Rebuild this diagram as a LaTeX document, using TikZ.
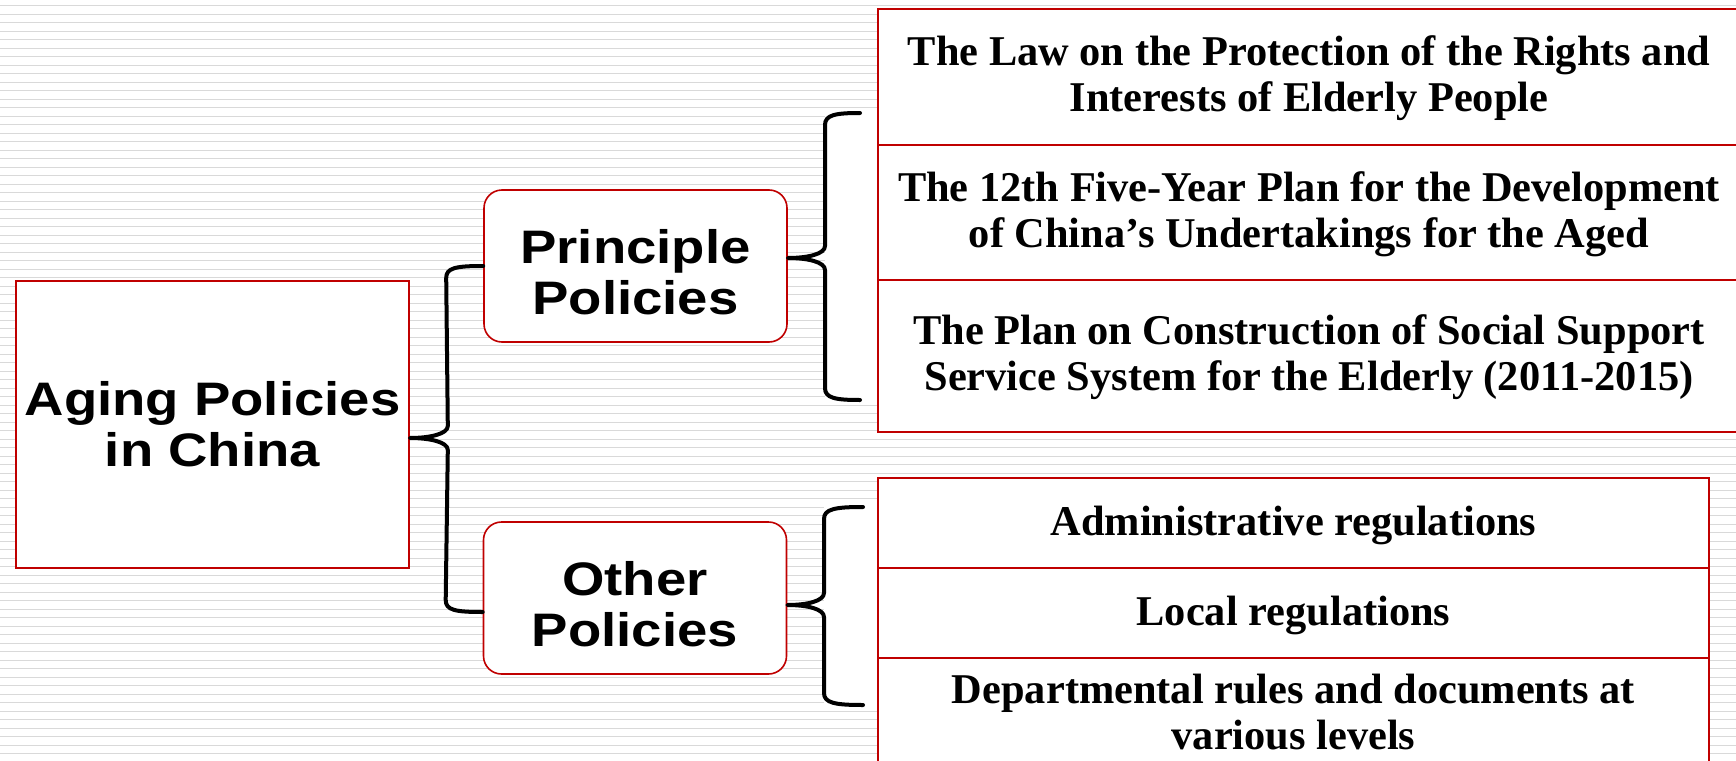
\documentclass[tikz,border=0pt]{standalone}
\usepackage{fontspec}
\setmainfont{Liberation Serif}
\newfontfamily\arialx[FakeStretch=1.16]{Liberation Sans}
\usetikzlibrary{calc}
\definecolor{boxred}{HTML}{C00000}
\definecolor{stripe}{HTML}{D9D9D9}
\begin{document}
\begin{tikzpicture}[x=1pt,y=-1pt,
  rootbox/.style={draw=boxred,line width=1.6pt,fill=white,inner sep=0pt,align=center,
    font=\arialx\bfseries\fontsize{47}{51}\selectfont},
  catbox/.style={draw=boxred,line width=1.6pt,fill=white,rounded corners=18pt,inner sep=0pt,
    minimum width=303pt,minimum height=152pt,align=center,
    font=\arialx\bfseries\fontsize{47}{51}\selectfont},
  policy/.style={draw=boxred,line width=1.6pt,fill=white,inner sep=0pt,align=center,
    font=\bfseries\fontsize{42.4}{46}\selectfont},
  bracket/.style={line width=4pt,black,line join=round,line cap=round}]
\useasboundingbox (0,0) rectangle (1736,760);
\fill[white] (0,0) rectangle (1736,760);
\foreach \i in {0,...,89} {
  \draw[stripe, line width=1.2pt] (0,5.7+8.5*\i) -- (1736,5.7+8.5*\i);
}
% white areas inside right braces
\fill[white] (825,113) rectangle (878,400);
\fill[white] (824,507) rectangle (878,705);

% nodes
\node[rootbox, minimum width=393pt, minimum height=287pt] (aging) at (212.5,424.5) {Aging Policies\\in China};
\node[catbox] (principle) at (635.5,266) {\rule{0pt}{46pt}Principle\\Policies};
\node[catbox] (other) at (635,598) {\rule{0pt}{47pt}Other\\Policies};

\node[policy, minimum width=862pt, minimum height=136pt] (law) at (1309,77)
  {\rule{0pt}{33pt}The Law on the Protection of the Rights and\\Interests of Elderly People};
\node[policy, minimum width=862pt, minimum height=135pt] (plan12) at (1309,212.5)
  {\rule{0pt}{33pt}The 12th Five-Year Plan for the Development\\of China’s Undertakings for the Aged};
\node[policy, minimum width=862pt, minimum height=152pt] (plansoc) at (1309,356)
  {\rule{0pt}{33pt}The Plan on Construction of Social Support\\Service System for the Elderly (2011-2015)};

\node[policy, minimum width=831pt, minimum height=90pt] (admin) at (1293.5,523)
  {\rule{0pt}{35pt}Administrative regulations};
\node[policy, minimum width=831pt, minimum height=90pt] (local) at (1293.5,613)
  {\rule{0pt}{35pt}Local regulations};
\node[policy, minimum width=831pt, minimum height=108pt] (dept) at (1293.5,712)
  {Departmental rules and documents at\\various levels};

% brace 1
\coordinate (b1top) at (principle.west);
\coordinate (b1bot) at ($(other.west)+(0,14)$);
\coordinate (b1tip) at (aging.east |- 0,438);
\draw[bracket] (b1top) .. controls +(-28,0) and +(0,-10) .. ($(b1top)+(-37,12)$)
  -- ($(b1tip)+(38,-12)$) .. controls +(0,8) and +(20,0) .. (b1tip)
  .. controls +(20,0) and +(0,-8) .. ($(b1tip)+(38,12)$)
  -- ($(b1bot)+(-37,-12)$) .. controls +(0,10) and +(-28,0) .. (b1bot);

% brace 2
\coordinate (b2top) at (860,113);
\coordinate (b2bot) at (860,400);
\coordinate (b2tip) at ($(principle.east)+(0,-8)$);
\draw[bracket] (b2top) .. controls +(-25,0) and +(0,-10) .. (825,125)
  -- (825,246) .. controls +(0,8) and +(20,0) .. (b2tip)
  .. controls +(20,0) and +(0,-8) .. (825,270)
  -- (825,388) .. controls +(0,10) and +(-25,0) .. (b2bot);

% brace 3
\coordinate (b3top) at (863,507);
\coordinate (b3bot) at (863,705);
\coordinate (b3tip) at ($(other.east)+(0,7)$);
\draw[bracket] (b3top) .. controls +(-28,0) and +(0,-10) .. (824,519)
  -- (824,593) .. controls +(0,8) and +(20,0) .. (b3tip)
  .. controls +(20,0) and +(0,-8) .. (824,617)
  -- (824,693) .. controls +(0,10) and +(-28,0) .. (b3bot);
\end{tikzpicture}
\end{document}
